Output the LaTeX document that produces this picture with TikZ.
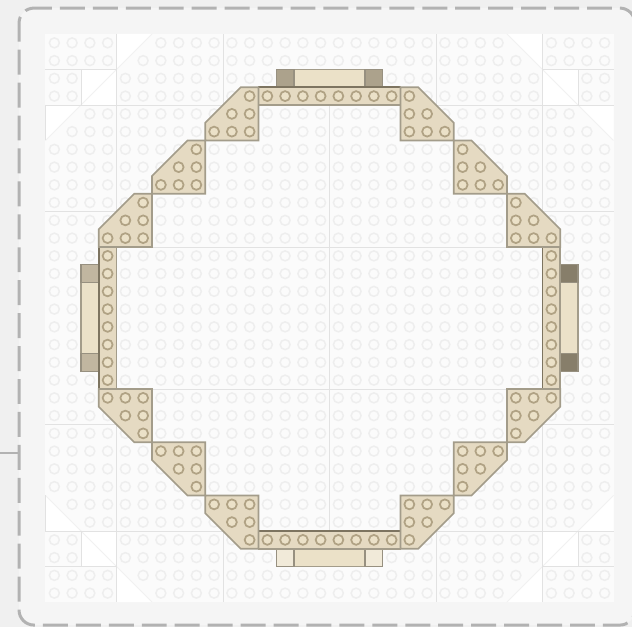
\documentclass[tikz,border=0pt]{standalone}
\usepackage{xcolor}
\definecolor{fouter}{HTML}{F0F0F0}
\definecolor{finner}{HTML}{F5F5F5}
\definecolor{fbase}{HTML}{FBFBFB}
\definecolor{fseam}{HTML}{E2E2E2}
\definecolor{fslant}{HTML}{F1F1F1}
\definecolor{fstud}{HTML}{EEEEEE}
\definecolor{ftan}{HTML}{E5DAC2}
\definecolor{fedge}{HTML}{A39C8A}
\definecolor{fdark}{HTML}{7D7460}
\definecolor{fring}{HTML}{B0A284}
\definecolor{ftile}{HTML}{EBE1C8}
\tikzset{
  frame/.style     = {draw=gray!60, line width=2.4pt, rounded corners=12pt,
                      dash pattern=on 20pt off 6.4pt, dash phase=5.6pt,
                      fill=finner},
  seam/.style      = {draw=fseam, line width=0.7pt},
  slant/.style     = {draw=fslant, line width=0.7pt},
  basestud/.style  = {draw=fstud, line width=1.2pt},
  platestud/.style = {draw=fring, line width=1.4pt, fill=ftile},
  plate/.style     = {draw=fedge, line width=1.3pt, fill=ftan},
  tilebody/.style  = {draw=fedge, line width=0.9pt, fill=ftile},
}
\newcommand{\cornerplate}[4]{%
  \begin{scope}[shift={(#1,#2)}, xscale=#3, yscale=#4]
    \draw[plate] (0,0) -- (3,0) -- (3,1) -- (1,3) -- (0,3) -- cycle;
    \foreach \i/\j in {0/0,1/0,2/0,0/1,1/1,0/2}
      \draw[platestud] (\i+0.5,\j+0.5) circle (0.28);
  \end{scope}}
\begin{document}
\begin{tikzpicture}[x=0.5cm, y=0.5cm]
\useasboundingbox (-18.563,-17.408) rectangle (17.042,17.915);
% ---- backdrop and dashed frame ----
\fill[fouter] (-18.563,-17.408) rectangle (17.042,17.915);
\draw[frame] (-17.49,17.46) -- (17.2,17.46) -- (17.2,-17.3)
             -- (-17.49,-17.3) -- cycle;
\draw[gray!60, line width=1.6pt] (-18.563,-7.59) -- (-17.49,-7.59);
% ---- baseplate ----
\fill[fbase] (-16,-16) rectangle (16,16);
\foreach \sx in {-1,1} \foreach \sy in {-1,1} {
  \begin{scope}[xscale=\sx, yscale=\sy]
    \fill[white] (12,16) -- (10,16) -- (12,14) -- cycle;
    \fill[white] (12,12) rectangle (14,14);
    \fill[white] (16,12) -- (14,12) -- (16,10) -- cycle;
    \draw[slant] (12,14) -- (10,16);
    \draw[slant] (14,12) -- (12,14);
    \draw[slant] (16,10) -- (14,12);
    \draw[seam] (12,14) -- (16,14);
    \draw[seam] (14,12) -- (14,14);
    \draw[seam] (12,6) -- (16,6);
    \draw[seam] (6,12) -- (6,16);
  \end{scope}
}
\draw[seam] (-16,12) -- (-16,10);
\draw[seam] (-16,-12) -- (-16,-10);
\draw[seam] (-16,12) -- (16,12);
\draw[seam] (-16,-12) -- (16,-12);
\draw[seam] (-12,16) -- (-12,-16);
\draw[seam] (12,16) -- (12,-16);
\draw[seam] (0,12) -- (0,-12);
\draw[seam] (-10,4) -- (10,4);
\draw[seam] (-10,-4) -- (10,-4);
% ---- baseplate studs, none on the corner wedges ----
\foreach \i in {-16,...,15} \foreach \j in {-16,...,15} {
  \pgfmathtruncatemacro{\ax}{\i<0 ? -\i-1 : \i}
  \pgfmathtruncatemacro{\ay}{\j<0 ? -\j-1 : \j}
  \pgfmathtruncatemacro{\gone}{
    (\ay==15 && (\ax==10 || \ax==11)) || (\ay==14 && \ax==11) ||
    ((\ay==13 || \ay==12) && (\ax==12 || \ax==13)) ||
    (\ay==11 && (\ax==14 || \ax==15)) || (\ay==10 && \ax==15) ? 1 : 0}
  \ifnum\gone=0
    \draw[basestud] (\i+0.5,\j+0.5) circle (0.28);
  \fi
}
% ---- tiles outside the long bars ----
\foreach \rot/\capcol in {0/{fdark!55!ftan}, 90/{fdark!35!ftan},
                          180/{ftile!70!white}, 270/{fdark!90!ftan}} {
  \begin{scope}[rotate=\rot]
    \draw[tilebody] (-3,13) rectangle (3,14);
    \draw[tilebody, draw=fdark!80, fill=\capcol] (-3,13) rectangle (-2,14);
    \draw[tilebody, draw=fdark!80, fill=\capcol] (2,13) rectangle (3,14);
  \end{scope}
}
% ---- long bars ----
\foreach \rot/\darkedge in {0/13, 90/13, 180/12, 270/12} {
  \begin{scope}[rotate=\rot]
    \draw[plate] (-4,12) rectangle (4,13);
    \draw[fdark, line width=1.3pt] (-4,\darkedge) -- (4,\darkedge);
    \foreach \i in {-4,...,3}
      \draw[platestud] (\i+0.5,12.5) circle (0.28);
  \end{scope}
}
% ---- chamfered corner plates ----
\foreach \sx in {-1,1} \foreach \sy in {-1,1} {
  \cornerplate{\sx*4}{\sy*10}{\sx}{\sy}
  \cornerplate{\sx*7}{\sy*7}{\sx}{\sy}
  \cornerplate{\sx*10}{\sy*4}{\sx}{\sy}
}
\end{tikzpicture}
\end{document}
